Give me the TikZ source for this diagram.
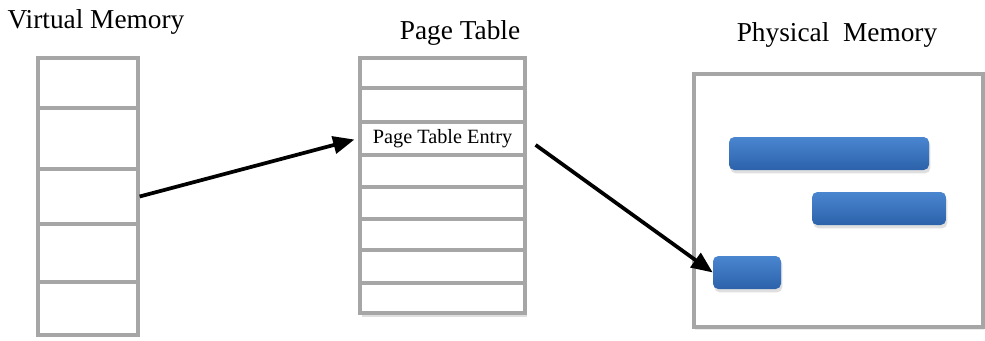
\documentclass[tikz,border=0pt]{standalone}
\usepackage{fontspec}
\setmainfont{Liberation Serif}
\usetikzlibrary{arrows.meta,shadows}
\definecolor{gridgray}{RGB}{166,166,166}
\definecolor{bartop}{RGB}{74,134,208}
\definecolor{barbot}{RGB}{44,98,170}
\newcommand{\pxu}{0.75pt}
\begin{document}
\begin{tikzpicture}[x=0.75pt,y=-0.75pt,
  cell/.style={draw=gridgray, line width=2.5pt, fill=white, inner sep=0pt},
  vcell/.style={cell, minimum width=100*\pxu},
  ptcell/.style={cell, minimum width=165*\pxu},
  title/.style={inner sep=0pt, font=\fontsize{20.5}{24}\selectfont},
  membox/.style={draw=gridgray, line width=2.5pt, fill=white, inner sep=0pt,
    drop shadow={shadow xshift=1pt, shadow yshift=-2pt, opacity=0.15}},
  bar/.style={rounded corners=4pt, top color=bartop, bottom color=barbot, draw=none,
    minimum height=33*\pxu, inner sep=0pt,
    drop shadow={shadow xshift=1pt, shadow yshift=-2.5pt, opacity=0.25}},
  arr/.style={line width=2.8pt, -{Triangle[length=16pt,width=13pt]}}]
\useasboundingbox (0,0) rectangle (985,340);

% titles
\node[title] (tv) at (96,22) {Virtual Memory};
\node[title] (tp) at (460,33) {Page Table};
\node[title] (tm) at (837,35) {Physical\ \ Memory};

% virtual memory
\node[vcell, minimum height=50*\pxu] (v1) at (88,83) {};
\node[vcell, minimum height=61*\pxu] (v2) at (88,138.5) {};
\node[vcell, minimum height=55*\pxu] (v3) at (88,196.5) {};
\node[vcell, minimum height=58*\pxu] (v4) at (88,253) {};
\node[vcell, minimum height=53*\pxu] (v5) at (88,308.5) {};

% page table
\fill[gray!25] (362,308) rectangle (527,317);
\node[ptcell, minimum height=30*\pxu] (p1) at (442.5,73) {};
\node[ptcell, minimum height=34*\pxu] (p2) at (442.5,105) {};
\node[ptcell, minimum height=33*\pxu, font=\fontsize{15.2}{18}\selectfont] (p3) at (442.5,138.5) {Page Table Entry};
\node[ptcell, minimum height=32*\pxu] (p4) at (442.5,171) {};
\node[ptcell, minimum height=32*\pxu] (p5) at (442.5,203) {};
\node[ptcell, minimum height=31*\pxu] (p6) at (442.5,234.5) {};
\node[ptcell, minimum height=33*\pxu] (p7) at (442.5,266.5) {};
\node[ptcell, minimum height=30*\pxu] (p8) at (442.5,298) {};

% physical memory
\node[membox, minimum width=289*\pxu, minimum height=253*\pxu] (pm) at (838.5,200.5) {};
\node[bar, minimum width=200*\pxu] (b1) at (829,153.5) {};
\node[bar, minimum width=134*\pxu] (b2) at (879,208.5) {};
\node[bar, minimum width=68*\pxu] (b3) at (747,272.5) {};

% connectors
\draw[arr, shorten >=4*\pxu] (v3.east) -- (p3.west);
\draw[arr, shorten <=11*\pxu] (p3.east) -- (b3.west);
\end{tikzpicture}
\end{document}
